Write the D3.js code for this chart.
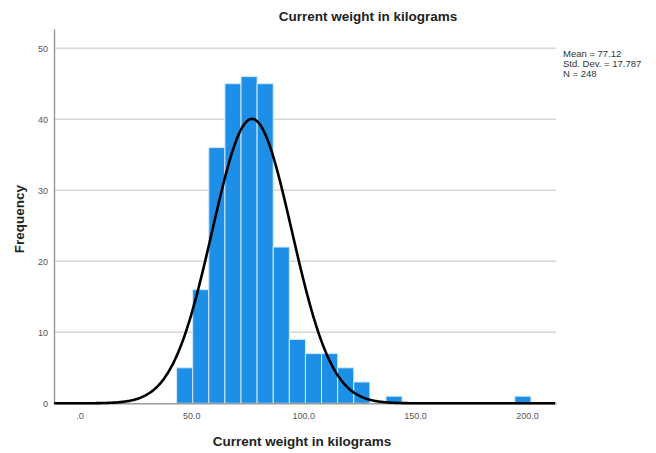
<!DOCTYPE html>
<html>
<head>
<meta charset="utf-8">
<script src="https://cdn.jsdelivr.net/npm/d3@7"></script>
<style>
  body { margin: 0; background: #fff; }
  svg { font-family: "Liberation Sans", Arial, sans-serif; }
</style>
</head>
<body>
<svg id="chart" width="656" height="453"></svg>
<script>
// histogram counts, one per bin
var counts = [5, 16, 36, 45, 46, 45, 22, 9, 7, 7, 5, 3, 0, 1, 0, 0, 0, 0, 0, 0, 0, 1];
var binStart = 43.4;
var binWidth = 7.2;
var xTicks = [0, 50, 100, 150, 200];
var yTicks = [0, 10, 20, 30, 40, 50];
var stats = { mean: 77.12, sd: 17.787, n: 248 };
var statLines = ["Mean = 77.12", "Std. Dev. = 17.787", "N = 248"];

var svg = d3.select("#chart");
var plotLeft = 54, plotRight = 556, plotTop = 29, plotBottom = 403.3;

var x = d3.scaleLinear().domain([-11.4, 213]).range([plotLeft, plotRight]);
var y = d3.scaleLinear().domain([0, 52.7]).range([plotBottom, plotTop]);

// gridlines
svg.append("g")
    .selectAll("line")
    .data(yTicks.filter(function (d) { return d > 0; }))
    .enter().append("line")
    .attr("x1", plotLeft).attr("x2", plotRight)
    .attr("y1", function (d) { return y(d); })
    .attr("y2", function (d) { return y(d); })
    .attr("stroke", "#d6d6d6")
    .attr("stroke-width", 1.5);

// bars
var bars = counts.map(function (c, i) {
    return { x0: binStart + i * binWidth, x1: binStart + (i + 1) * binWidth, c: c };
}).filter(function (b) { return b.c > 0; });

svg.append("g")
    .selectAll("rect")
    .data(bars)
    .enter().append("rect")
    .attr("x", function (d) { return x(d.x0); })
    .attr("width", function (d) { return x(d.x1) - x(d.x0); })
    .attr("y", function (d) { return y(d.c); })
    .attr("height", function (d) { return y(0) - y(d.c); })
    .attr("fill", "#1e8fe6")
    .attr("stroke", "#d4e9fb")
    .attr("stroke-width", 1);

// axes
var xAxis = svg.append("g")
    .attr("transform", "translate(0," + plotBottom + ")")
    .call(d3.axisBottom(x).tickValues(xTicks).tickSize(0).tickPadding(9)
        .tickFormat(function (d) { return d === 0 ? ".0" : d3.format(".1f")(d); }));
xAxis.select(".domain").attr("stroke", "#9a9a9a").attr("stroke-width", 1.5);
xAxis.selectAll("text").attr("font-size", "9px").attr("fill", "#555")
    .attr("font-family", "Liberation Sans, Arial, sans-serif");

var yAxis = svg.append("g")
    .attr("transform", "translate(" + plotLeft + ",0)")
    .call(d3.axisLeft(y).tickValues(yTicks).tickSize(0).tickPadding(6));
yAxis.select(".domain").attr("stroke", "#9a9a9a").attr("stroke-width", 1.5);
yAxis.selectAll("text").attr("font-size", "9px").attr("fill", "#555")
    .attr("font-family", "Liberation Sans, Arial, sans-serif");

// normal curve
var curveX = d3.range(-11.4, 213.01, 0.5);
var scale = stats.n * binWidth / (stats.sd * Math.sqrt(2 * Math.PI));
var line = d3.line()
    .x(function (d) { return x(d); })
    .y(function (d) { return y(scale * Math.exp(-0.5 * Math.pow((d - stats.mean) / stats.sd, 2))); })
    .curve(d3.curveBasis);
svg.append("path")
    .datum(curveX)
    .attr("d", line)
    .attr("fill", "none")
    .attr("stroke", "#000")
    .attr("stroke-width", 2.6);

// titles
svg.append("text")
    .attr("x", 368).attr("y", 21)
    .attr("text-anchor", "middle")
    .attr("font-size", "13.5px")
    .attr("font-weight", "bold")
    .attr("fill", "#222")
    .text("Current weight in kilograms");

svg.append("text")
    .attr("x", 302).attr("y", 446)
    .attr("text-anchor", "middle")
    .attr("font-size", "13.5px")
    .attr("font-weight", "bold")
    .attr("fill", "#222")
    .text("Current weight in kilograms");

svg.append("text")
    .attr("transform", "translate(24,219) rotate(-90)")
    .attr("text-anchor", "middle")
    .attr("font-size", "13.5px")
    .attr("font-weight", "bold")
    .attr("fill", "#222")
    .text("Frequency");

svg.append("g")
    .selectAll("text")
    .data(statLines)
    .enter().append("text")
    .attr("x", 563)
    .attr("y", function (d, i) { return 57 + i * 10; })
    .attr("font-size", "9.5px")
    .attr("fill", "#333")
    .text(function (d) { return d; });
</script>
</body>
</html>
